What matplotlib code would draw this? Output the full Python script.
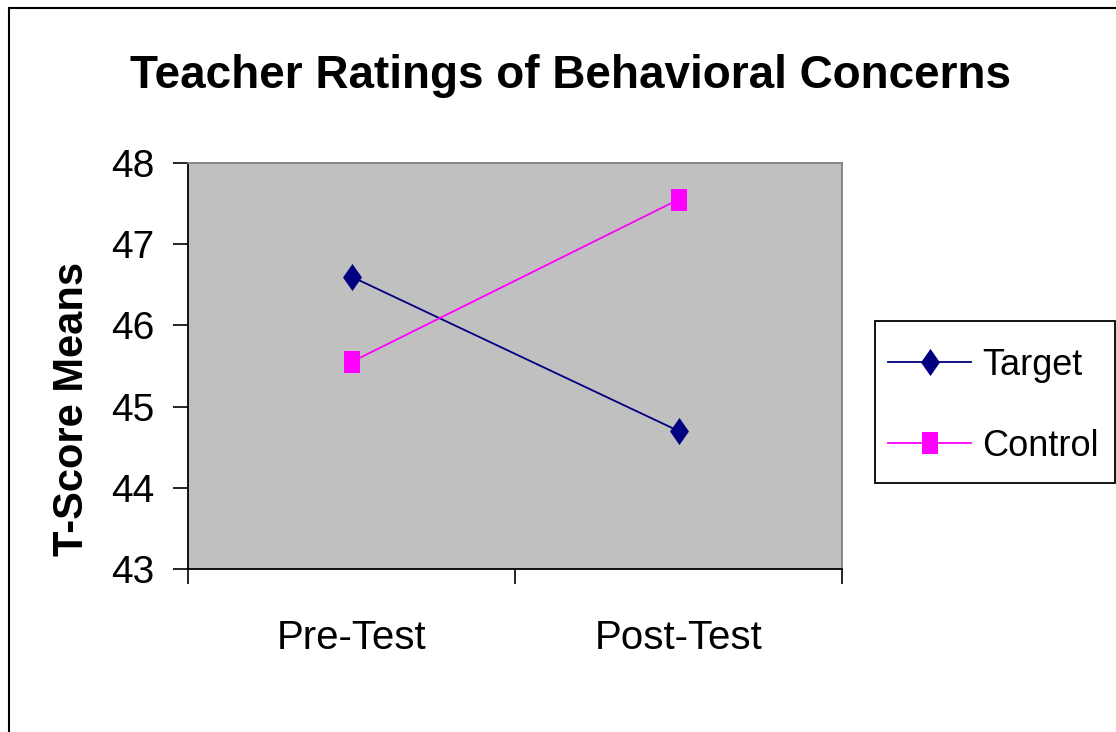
import matplotlib
matplotlib.use("Agg")
import matplotlib.pyplot as plt
from matplotlib.lines import Line2D
from matplotlib.patches import Rectangle

# data
phases = ["Pre-Test", "Post-Test"]
target = [46.6, 44.7]
control = [45.55, 47.55]
yticks = [43, 44, 45, 46, 47, 48]

plt.rcParams['font.family'] = ['Liberation Sans', 'DejaVu Sans']

W, H = 1116, 732
fig = plt.figure(figsize=(W / 100, H / 100), dpi=100)
fig.patch.set_facecolor("white")

# plot area in pixels: x 188..842, y 163..569
ax = fig.add_axes([188 / W, 1 - 569 / H, (842 - 188) / W, (569 - 163) / H])
ax.set_facecolor("#c0c0c0")

x = [0.5, 1.5]
dia = [(0, -0.5), (0.35, 0), (0, 0.5), (-0.35, 0), (0, -0.5)]
ax.plot(x, target, color="#000080", lw=1.3, marker=dia, markersize=19.5,
        markeredgewidth=0, label="Target")
sq = [(-0.36, -0.5), (0.36, -0.5), (0.36, 0.5), (-0.36, 0.5), (-0.36, -0.5)]
ax.plot(x, control, color="#ff00ff", lw=1.3, marker=sq, markersize=16,
        markeredgewidth=0, label="Control")

ax.set_xlim(0, 2)
ax.set_ylim(43, 48)
ax.set_yticks(yticks)
ax.set_yticklabels([str(v) for v in yticks], fontsize=28)
ax.set_xticks([0, 1, 2])
ax.set_xticklabels([])
ax.set_xticks(x, minor=True)
ax.set_xticklabels(phases, minor=True, fontsize=29)
ax.tick_params(axis="x", which="minor", length=0, pad=36)
ax.tick_params(axis="x", which="major", length=11, width=1.2, direction="out")
ax.tick_params(axis="y", length=11, width=1.2, direction="out", pad=13)

for s in ["left", "bottom"]:
    ax.spines[s].set_color("black")
    ax.spines[s].set_linewidth(1.3)
for s in ["top", "right"]:
    ax.spines[s].set_color("#808080")
    ax.spines[s].set_linewidth(1.3)

ax.set_ylabel("T-Score Means", fontsize=30, fontweight="bold")
ax.yaxis.label.set_va("center")
ax.yaxis.set_label_coords((72 - 188) / 654, (569 - 409) / 406)

fig.text(570 / W, 1 - 76 / H, "Teacher Ratings of Behavioral Concerns",
         ha="center", va="center", fontsize=33, fontweight="bold")

# legend entries without frame; the box is drawn separately so its
# padding can match the original (taller than wide)
leg = ax.legend(loc="center left", bbox_to_anchor=(888 / W, 1 - 406 / H),
                bbox_transform=fig.transFigure, fontsize=26, frameon=False,
                handlelength=2.3, borderpad=0, labelspacing=1.27,
                handletextpad=0.3, borderaxespad=0)
fig.add_artist(Rectangle((875 / W, 1 - 483 / H), 240 / W, 162 / H,
                         transform=fig.transFigure, facecolor="white",
                         edgecolor="black", lw=1.3, zorder=-1))

# outer chart border, running off the right and bottom edges
fig.add_artist(Line2D([9 / W, 9 / W], [0, 1 - 8 / H], color="black", lw=1.5,
                      transform=fig.transFigure))
fig.add_artist(Line2D([9 / W, 1], [1 - 8 / H, 1 - 8 / H], color="black", lw=1.5,
                      transform=fig.transFigure))

fig.savefig("out.png", dpi=100)
